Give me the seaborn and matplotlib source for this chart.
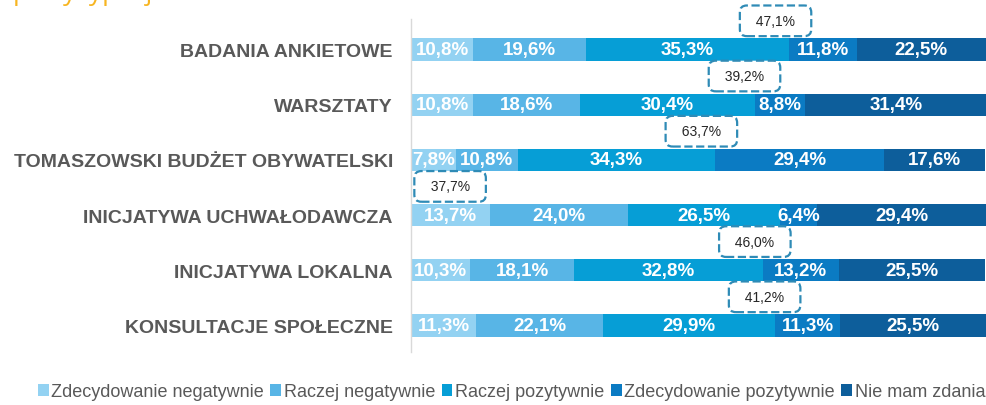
import numpy as np
import pandas as pd
import matplotlib
matplotlib.use("Agg")
import matplotlib.pyplot as plt
import seaborn as sns
from matplotlib.patches import Patch

categories = ['BADANIA ANKIETOWE', 'WARSZTATY', 'TOMASZOWSKI BUDŻET OBYWATELSKI',
              'INICJATYWA UCHWAŁODAWCZA', 'INICJATYWA LOKALNA', 'KONSULTACJE SPOŁECZNE']
series_names = ['Zdecydowanie negatywnie', 'Raczej negatywnie', 'Raczej pozytywnie',
                'Zdecydowanie pozytywnie', 'Nie mam zdania']
zdec_neg = [10.8, 10.8, 7.8, 13.7, 10.3, 11.3]
racz_neg = [19.6, 18.6, 10.8, 24.0, 18.1, 22.1]
racz_poz = [35.3, 30.4, 34.3, 26.5, 32.8, 29.9]
zdec_poz = [11.8, 8.8, 29.4, 6.4, 13.2, 11.3]
nie_mam = [22.5, 31.4, 17.6, 29.4, 25.5, 25.5]

# callout boxes (sum of the larger side) and where they sit on the x axis
box_vals = [47.1, 39.2, 63.7, 37.7, 46.0, 41.2]
box_x = [63.4, 58.0, 50.5, 6.8, 59.8, 61.5]

colors = ['#93D2F2', '#58B5E6', '#069ED6', '#0B7BC3', '#0D5E9B']

sns.set_theme(style='white')
plt.rcParams['font.family'] = ['Liberation Sans', 'DejaVu Sans']

values = np.array([zdec_neg, racz_neg, racz_poz, zdec_poz, nie_mam])
cum = values.cumsum(axis=0)

fig = plt.figure(figsize=(9.86, 4.06), dpi=100)
ax = fig.add_axes([411 / 986, 1 - 353 / 406, 575 / 986, 333 / 406])

# stacked bars: draw cumulative totals from the outermost layer inwards
for k in range(len(series_names) - 1, -1, -1):
    df = pd.DataFrame({'cat': categories, 'val': cum[k]})
    sns.barplot(data=df, x='val', y='cat', order=categories, color=colors[k],
                saturation=1, width=0.4, orient='h', linewidth=0,
                edgecolor='none', ax=ax)


def fmt(v):
    return f"{v:.1f}".replace('.', ',') + '%'


for k in range(len(series_names)):
    left = cum[k] - values[k]
    for i in range(len(categories)):
        ax.text(left[i] + values[k][i] / 2, i, fmt(values[k][i]), ha='center', va='center',
                color='white', fontsize=13.5, fontweight='bold')

for i, (v, x) in enumerate(zip(box_vals, box_x)):
    ax.text(x, i - 0.52, '  ' + fmt(v) + '  ', ha='center', va='center',
            fontsize=10, color='#262626',
            bbox=dict(boxstyle='round,pad=0.6,rounding_size=0.5', fc='white',
                      ec='#2F8BB6', ls='--', lw=1.6))

ax.set_xlim(0, 100)
ax.set_ylim(5.48, -0.553)
ax.set_xlabel('')
ax.set_ylabel('')
ax.set_xticks([])
for s in ['top', 'right', 'bottom']:
    ax.spines[s].set_visible(False)
ax.spines['left'].set_color('#D9D9D9')
ax.spines['left'].set_linewidth(1)
ax.tick_params(axis='y', length=0, pad=13)
for t in ax.get_yticklabels():
    t.set_fontsize(14)
    t.set_fontweight('bold')
    t.set_color('#595959')

handles = [Patch(facecolor=c, edgecolor='none') for c in colors]
fig.legend(handles, series_names, loc='center', ncol=5, frameon=False,
           bbox_to_anchor=(511.5 / 986, 1 - 393 / 406), fontsize=13,
           handlelength=0.6, handleheight=0.6, handletextpad=0.15,
           columnspacing=0.35, labelcolor='#595959')

# cut-off title fragment at the very top
fig.text(13 / 986, 1.0, 'partycypacji', va='baseline', ha='left',
         fontsize=19, color='#F7B521', family=['Open Sans', 'DejaVu Sans'])

fig.savefig('out.png', dpi=100)
